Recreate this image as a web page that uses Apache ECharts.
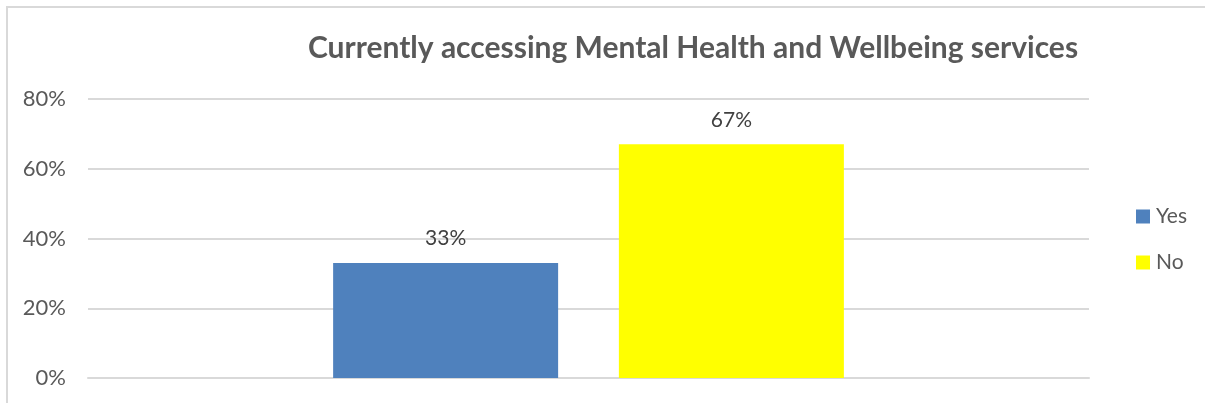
<!DOCTYPE html>
<html>
<head>
<meta charset="utf-8">
<script src="https://cdn.jsdelivr.net/npm/echarts@6/dist/echarts.min.js"></script>
<style>
  html, body { margin: 0; padding: 0; background: #fff; }
  #chart { width: 1205px; height: 403px; }
</style>
</head>
<body>
<div id="chart"></div>
<script>
// Survey response shares (percent)
const categories = ['Currently accessing'];
const seriesNames = ['Yes', 'No'];
const yesValues = [33];
const noValues = [67];
const seriesColors = ['#4F81BD', '#FFFF00'];
const yTicks = [0, 20, 40, 60, 80];

const font = 'Lato, "Open Sans", sans-serif';

const chart = echarts.init(document.getElementById('chart'), null, { renderer: 'canvas' });

const valueSets = [yesValues, noValues];

chart.setOption({
  animation: false,
  backgroundColor: '#fff',
  title: {
    text: 'Currently accessing Mental Health and Wellbeing services',
    left: 688,
    top: 28,
    textAlign: 'center',
    textStyle: { fontFamily: font, fontSize: 30, fontWeight: 'bold', color: '#595959' }
  },
  legend: {
    orient: 'vertical',
    left: 1131,
    top: 201,
    itemWidth: 14,
    itemHeight: 14,
    itemGap: 25,
    icon: 'rect',
    textStyle: { fontFamily: font, fontSize: 21, color: '#595959', padding: [0, 0, 0, 1] },
    data: seriesNames
  },
  grid: { left: 88, right: 116, top: 99, bottom: 25, containLabel: false },
  xAxis: {
    type: 'category',
    data: categories,
    axisLine: { show: true, lineStyle: { color: '#d9d9d9', width: 2 } },
    axisTick: { show: false },
    axisLabel: { show: false }
  },
  yAxis: {
    type: 'value',
    min: yTicks[0],
    max: yTicks[yTicks.length - 1],
    interval: 20,
    axisLine: { show: false },
    axisTick: { show: false },
    splitLine: { lineStyle: { color: '#d9d9d9', width: 2 } },
    axisLabel: {
      margin: 22,
      fontFamily: font,
      fontSize: 22,
      color: '#595959',
      formatter: v => v + '%'
    }
  },
  series: seriesNames.map((name, i) => ({
    name,
    type: 'bar',
    data: valueSets[i],
    barWidth: 225,
    barGap: '27%',
    itemStyle: { color: seriesColors[i] },
    label: {
      show: true,
      position: 'top',
      distance: 14,
      fontFamily: font,
      fontSize: 21,
      color: '#404040',
      formatter: p => p.value + '%'
    }
  })),
  graphic: [{
    type: 'rect',
    shape: { x: 7, y: 7, width: 1210, height: 420 },
    style: { fill: 'none', stroke: '#d9d9d9', lineWidth: 2 },
    silent: true,
    z: -1
  }]
});
</script>
</body>
</html>
